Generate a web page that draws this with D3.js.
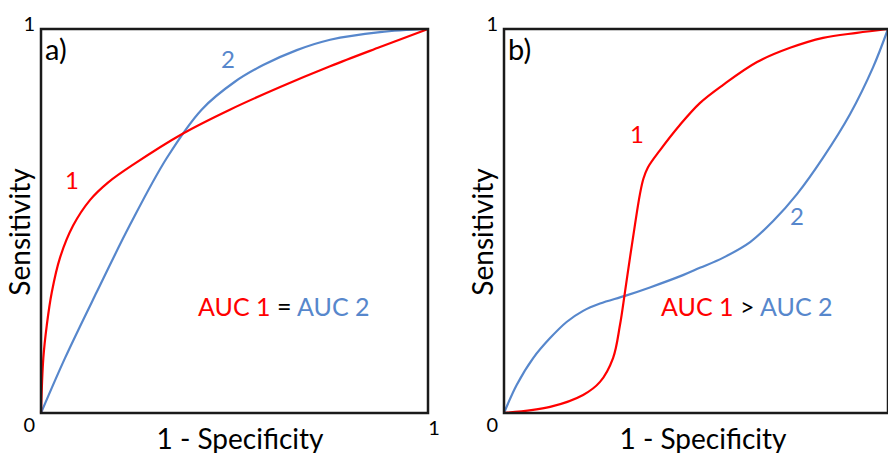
<!DOCTYPE html>
<meta charset="utf-8">
<head>
<style>
  body { margin: 0; background: #fff; }
  text { font-family: Lato, "Open Sans", sans-serif; }
</style>
<script src="https://d3js.org/d3.v7.min.js"></script>
</head>
<body>
<div id="chart"></div>
<script>
// panel a) curve 1 (red) and curve 2 (blue)
var redA_fpr = [0, 0.006, 0.015, 0.028, 0.049, 0.083, 0.127, 0.173, 0.243, 0.367, 0.488, 0.618, 0.747, 0.876, 1];
var redA_tpr = [0, 0.143, 0.229, 0.315, 0.404, 0.488, 0.555, 0.600, 0.650, 0.728, 0.790, 0.849, 0.903, 0.953, 1];
var blueA_fpr = [0, 0.062, 0.144, 0.230, 0.325, 0.415, 0.500, 0.574, 0.661, 0.747, 0.876, 1];
var blueA_tpr = [0, 0.143, 0.315, 0.490, 0.664, 0.790, 0.862, 0.906, 0.945, 0.972, 0.992, 1];

// panel b)
var redB_fpr = [0, 0.120, 0.206, 0.250, 0.284, 0.302, 0.315, 0.328, 0.341, 0.354, 0.363, 0.375, 0.406, 0.458, 0.510, 0.570, 0.659, 0.745, 0.831, 0.919, 1];
var redB_tpr = [0, 0.016, 0.047, 0.081, 0.143, 0.229, 0.315, 0.404, 0.490, 0.570, 0.610, 0.640, 0.684, 0.750, 0.807, 0.854, 0.914, 0.951, 0.977, 0.990, 1];
var blueB_fpr = [0, 0.033, 0.076, 0.120, 0.163, 0.206, 0.250, 0.315, 0.380, 0.466, 0.510, 0.570, 0.641, 0.701, 0.763, 0.831, 0.901, 0.961, 1];
var blueB_tpr = [0, 0.073, 0.143, 0.195, 0.237, 0.266, 0.285, 0.305, 0.327, 0.359, 0.378, 0.404, 0.445, 0.500, 0.570, 0.665, 0.778, 0.900, 1];

var tickVals = [0, 1];
var red = "#ff0000", blue = "#5787cc";

var W = 888, H = 453;
var svg = d3.select("#chart").append("svg")
    .attr("width", W).attr("height", H);

function zip(xs, ys) { return xs.map(function (v, i) { return [v, ys[i]]; }); }

function panel(left, width, tag, red1, blue2, lab1, lab2, sign, aucX, lastTick) {
    var top = 29, bottom = 413;
    var x = d3.scaleLinear().domain([0, 1]).range([left, left + width]);
    var y = d3.scaleLinear().domain([0, 1]).range([bottom, top]);
    var g = svg.append("g");

    var line = d3.line()
        .x(function (d) { return x(d[0]); })
        .y(function (d) { return y(d[1]); })
        .curve(d3.curveCatmullRom.alpha(0.5));

    g.append("path").attr("d", line(blue2))
        .attr("fill", "none").attr("stroke", blue).attr("stroke-width", 2.2);
    g.append("path").attr("d", line(red1))
        .attr("fill", "none").attr("stroke", red).attr("stroke-width", 2.2);

    g.append("rect")
        .attr("x", x(0)).attr("y", y(1))
        .attr("width", x(1) - x(0)).attr("height", y(0) - y(1))
        .attr("fill", "none").attr("stroke", "#1a1a1a").attr("stroke-width", 2.5);

    // tick labels
    g.append("text").attr("x", x(0) - 6).attr("y", y(1) + 2)
        .attr("text-anchor", "end").attr("font-size", 20).text(tickVals[1]);
    g.append("text").attr("x", x(0) - 6).attr("y", y(0) + 19)
        .attr("text-anchor", "end").attr("font-size", 20).text(tickVals[0]);
    if (lastTick) {
        g.append("text").attr("x", x(1) + 6).attr("y", y(0) + 22)
            .attr("text-anchor", "middle").attr("font-size", 20).text(tickVals[1]);
    }

    g.append("text").attr("x", x(0) + 4).attr("y", y(1) + 31)
        .attr("font-size", 29).text(tag);

    g.append("text")
        .attr("transform", "translate(" + (x(0) - 11) + "," + ((top + bottom) / 2 + 11) + ") rotate(-90)")
        .attr("text-anchor", "middle").attr("font-size", 28).text("Sensitivity");
    g.append("text").attr("x", x(0) + 199).attr("y", 449)
        .attr("text-anchor", "middle").attr("font-size", 28).text("1 - Specificity");

    g.append("text").attr("x", lab1[0]).attr("y", lab1[1])
        .attr("fill", red).attr("font-size", 24).attr("text-anchor", "middle").text("1");
    g.append("text").attr("x", lab2[0]).attr("y", lab2[1])
        .attr("fill", blue).attr("font-size", 24).attr("text-anchor", "middle").text("2");

    var t = g.append("text").attr("x", aucX).attr("y", 316).attr("font-size", 25);
    t.append("tspan").attr("fill", red).text("AUC 1 ");
    t.append("tspan").attr("fill", "#000").text(sign);
    t.append("tspan").attr("fill", blue).text(" AUC 2");
}

panel(41, 387, "a)", zip(redA_fpr, redA_tpr), zip(blueA_fpr, blueA_tpr), [72, 189], [228, 68], "=", 198, true);
panel(504, 384, "b)", zip(redB_fpr, redB_tpr), zip(blueB_fpr, blueB_tpr), [637, 143], [797, 225], ">", 661, false);
</script>
</body>
